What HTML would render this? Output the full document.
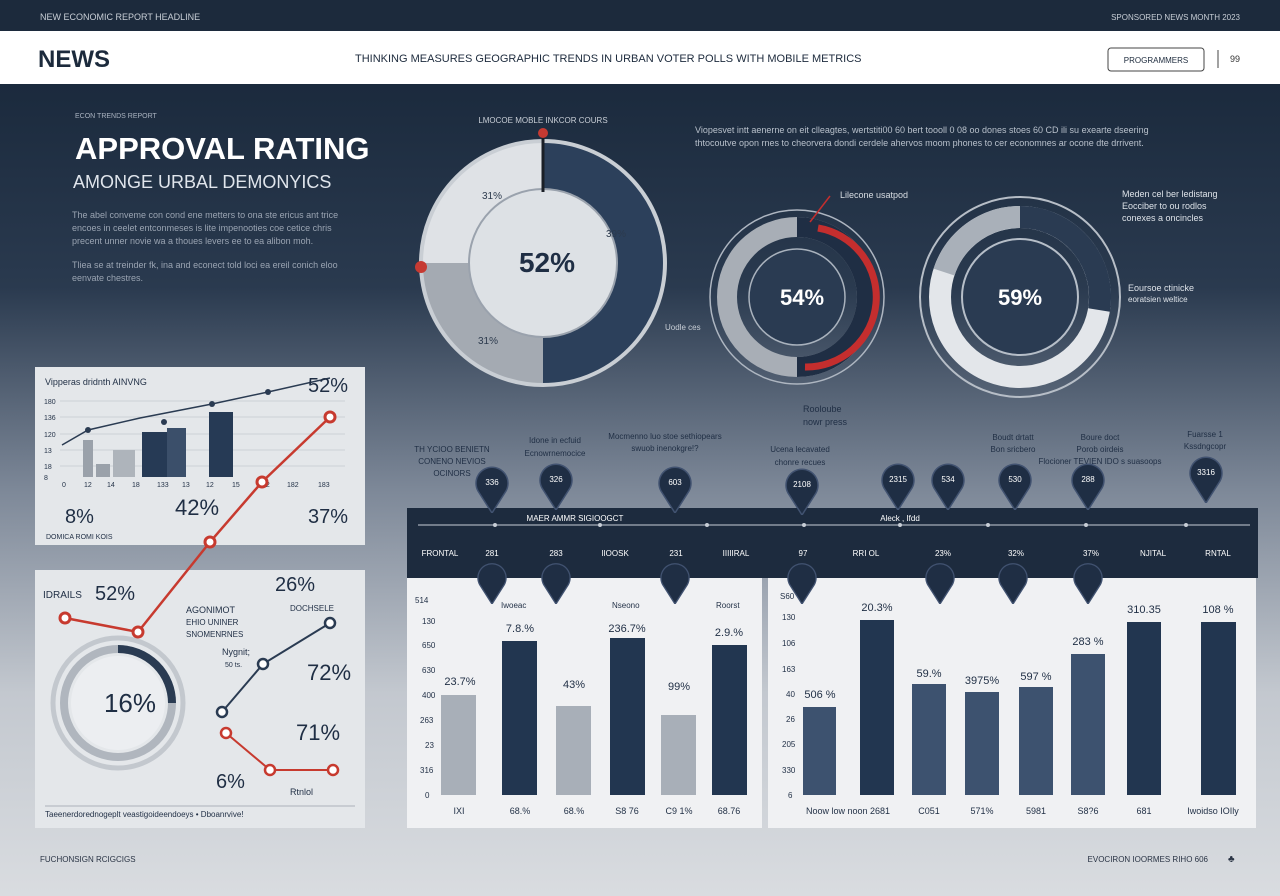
<!DOCTYPE html>
<html><head><meta charset="utf-8"><style>
html,body{margin:0;padding:0;width:1280px;height:896px;overflow:hidden;font-family:"Liberation Sans",sans-serif}
</style></head><body>
<svg width="1280" height="896" viewBox="0 0 1280 896" xmlns="http://www.w3.org/2000/svg" font-family="Liberation Sans, sans-serif">
<defs>
<linearGradient id="bg" x1="0" y1="0" x2="0" y2="1">
<stop offset="0" stop-color="#1b2a3d"/>
<stop offset="0.25" stop-color="#2a3a4f"/>
<stop offset="0.5" stop-color="#7d8898"/>
<stop offset="0.75" stop-color="#c3c8cf"/>
<stop offset="1" stop-color="#d9dce0"/>
</linearGradient>
<symbol id="pin" viewBox="0 0 36 50"><path d="M18 50 L4 28 A16 16 0 1 1 32 28 Z" fill="#1f2e44" stroke="#415270" stroke-width="1.5"/></symbol>
</defs>
<rect x="0" y="84" width="1280" height="812" fill="url(#bg)"/>
<rect x="0" y="0" width="1280" height="31" fill="#1c2a3c"/>
<text x="40" y="20" fill="#c8ced6" font-size="9">NEW ECONOMIC REPORT HEADLINE</text>
<text x="1240" y="20" fill="#c8ced6" font-size="8" text-anchor="end">SPONSORED NEWS MONTH 2023</text>
<rect x="0" y="31" width="1280" height="53" fill="#ffffff"/>
<text x="38" y="67" fill="#1c2a3c" font-size="24" font-weight="bold">NEWS</text>
<text x="355" y="62" fill="#1c2a3c" font-size="11">THINKING MEASURES GEOGRAPHIC TRENDS IN URBAN VOTER POLLS WITH MOBILE METRICS</text>
<rect x="1108" y="48" width="96" height="23" rx="3" fill="#fff" stroke="#444" stroke-width="1"/>
<text x="1156" y="63" fill="#1c2a3c" font-size="8" text-anchor="middle">PROGRAMMERS</text>
<line x1="1218" y1="50" x2="1218" y2="68" stroke="#444"/>
<text x="1230" y="62" fill="#333" font-size="9">99</text>

<text x="75" y="118" fill="#aab3c0" font-size="7">ECON TRENDS REPORT</text>
<text x="75" y="159" fill="#ffffff" font-size="31" font-weight="bold">APPROVAL RATING</text>
<text x="73" y="188" fill="#e0e5ec" font-size="18">AMONGE URBAL DEMONYICS</text>
<text x="72" y="218" fill="#9aa4b2" font-size="9">The abel conveme con cond ene metters to ona ste ericus ant trice</text>
<text x="72" y="231" fill="#9aa4b2" font-size="9">encoes in ceelet entconmeses is lite impenooties coe cetice chris</text>
<text x="72" y="244" fill="#9aa4b2" font-size="9">precent unner novie wa a thoues levers ee to ea alibon moh.</text>
<text x="72" y="268" fill="#9aa4b2" font-size="9">Tliea se at treinder fk, ina and econect told loci ea ereil conich eloo</text>
<text x="72" y="281" fill="#9aa4b2" font-size="9">eenvate chestres.</text>

<text x="543" y="123" fill="#c8ced6" font-size="8" text-anchor="middle">LMOCOE MOBLE INKCOR COURS</text>
<circle cx="543" cy="263" r="122" fill="#dfe2e6"/>
<path d="M543 141 A122 122 0 0 1 543 385 Z" fill="#2c405b"/>
<path d="M543 263 L543 385 A122 122 0 0 1 421 263 Z" fill="#a4aab2"/>
<circle cx="543" cy="263" r="122" fill="none" stroke="#c9ced4" stroke-width="4"/>
<circle cx="543" cy="263" r="74" fill="#dde1e5" stroke="#9aa2ad" stroke-width="2"/>
<line x1="543" y1="135" x2="543" y2="192" stroke="#1a1f27" stroke-width="3"/>
<circle cx="543" cy="133" r="5" fill="#c63a32"/>
<circle cx="421" cy="267" r="6" fill="#c63a32"/>
<text x="547" y="272" fill="#1f2e44" font-size="28" font-weight="bold" text-anchor="middle">52%</text>
<text x="482" y="199" fill="#2c3a4d" font-size="10">31%</text>
<text x="606" y="237" fill="#2c3a4d" font-size="10">39%</text>
<text x="478" y="344" fill="#2c3a4d" font-size="10">31%</text>

<text x="695" y="133" fill="#b8c0cb" font-size="9">Viopesvet intt aenerne on eit clleagtes, wertstiti00 60 bert toooll 0 08 oo dones stoes 60 CD ili su exearte dseering</text>
<text x="695" y="146" fill="#b8c0cb" font-size="9">thtocoutve opon rnes to cheorvera dondi cerdele ahervos moom phones to cer economnes ar ocone dte drrivent.</text>

<circle cx="797" cy="297" r="87" fill="none" stroke="#aeb6c1" stroke-width="1.5"/>
<circle cx="797" cy="297" r="70" fill="none" stroke="#a8aeb6" stroke-width="20"/>
<path d="M797 227 A70 70 0 0 1 797 367" fill="none" stroke="#1f2e44" stroke-width="20"/>
<path d="M810 228 A70 70 0 0 1 797 367" fill="none" stroke="#c42e2e" stroke-width="7" transform="translate(8,0)"/>
<circle cx="797" cy="297" r="48" fill="#2a3b52" stroke="#a9b2bd" stroke-width="1.5"/>
<text x="802" y="305" fill="#fff" font-size="22" font-weight="bold" text-anchor="middle">54%</text>
<text x="840" y="198" fill="#d8dde3" font-size="9">Lilecone usatpod</text>
<line x1="830" y1="196" x2="810" y2="222" stroke="#c42e2e" stroke-width="1.5"/>
<text x="665" y="330" fill="#c8ced6" font-size="8">Uodle ces</text>
<text x="803" y="412" fill="#1f2e44" font-size="9">Rooloube</text>
<text x="803" y="425" fill="#1f2e44" font-size="9">nowr press</text>

<circle cx="1020" cy="297" r="100" fill="none" stroke="#b7bec7" stroke-width="2"/>
<circle cx="1020" cy="297" r="80" fill="none" stroke="#e3e6ea" stroke-width="22"/>
<path d="M1020 217 A80 80 0 0 1 1099 310" fill="none" stroke="#2a3b52" stroke-width="22"/>
<path d="M1020 217 A80 80 0 0 0 944 272" fill="none" stroke="#a9b0b9" stroke-width="22"/>
<circle cx="1020" cy="297" r="58" fill="#2a3b52" stroke="#b6bec8" stroke-width="2"/>
<text x="1020" y="305" fill="#fff" font-size="22" font-weight="bold" text-anchor="middle">59%</text>
<text x="1122" y="197" fill="#dde2e8" font-size="9">Meden cel ber ledistang</text>
<text x="1122" y="209" fill="#dde2e8" font-size="9">Eocciber to ou rodlos</text>
<text x="1122" y="221" fill="#dde2e8" font-size="9">conexes a oncincles</text>
<text x="1128" y="291" fill="#dde2e8" font-size="9">Eoursoe ctinicke</text>
<text x="1128" y="302" fill="#dde2e8" font-size="8">eoratsien weltice</text>

<rect x="35" y="367" width="330" height="178" fill="#e4e7ea"/>
<text x="45" y="385" fill="#1f2e44" font-size="9">Vipperas dridnth AINVNG</text>
<g fill="#1f2e44" font-size="7">
<text x="44" y="404">180</text><text x="44" y="420">136</text><text x="44" y="437">120</text><text x="44" y="453">13</text><text x="44" y="469">18</text><text x="44" y="480">8</text>
<text x="62" y="487">0</text><text x="84" y="487">12</text><text x="107" y="487">14</text><text x="132" y="487">18</text><text x="157" y="487">133</text><text x="182" y="487">13</text><text x="206" y="487">12</text><text x="232" y="487">15</text><text x="262" y="487">22</text><text x="287" y="487">182</text><text x="318" y="487">183</text>
</g>
<g stroke="#b4bac2" stroke-width="0.6"><line x1="60" y1="401" x2="345" y2="401"/><line x1="60" y1="417" x2="345" y2="417"/><line x1="60" y1="434" x2="345" y2="434"/><line x1="60" y1="450" x2="345" y2="450"/><line x1="60" y1="466" x2="345" y2="466"/></g>
<rect x="83" y="440" width="10" height="37" fill="#9aa1aa"/>
<rect x="96" y="464" width="14" height="13" fill="#9aa1aa"/>
<rect x="113" y="450" width="22" height="27" fill="#aeb4bb"/>
<rect x="142" y="432" width="28" height="45" fill="#263a55"/>
<rect x="167" y="428" width="19" height="49" fill="#3b4f6a"/>
<rect x="209" y="412" width="24" height="65" fill="#263a55"/>
<polyline points="62,445 88,430 140,418 212,404 268,392 330,378" fill="none" stroke="#2a3b52" stroke-width="1.5"/>
<g fill="#2a3b52"><circle cx="88" cy="430" r="3"/><circle cx="164" cy="422" r="3"/><circle cx="212" cy="404" r="3"/><circle cx="268" cy="392" r="3"/></g>
<text x="308" y="392" fill="#1f2e44" font-size="20">52%</text>
<text x="65" y="523" fill="#1f2e44" font-size="20">8%</text>
<text x="175" y="515" fill="#1f2e44" font-size="22">42%</text>
<text x="308" y="523" fill="#1f2e44" font-size="20">37%</text>
<text x="46" y="539" fill="#1f2e44" font-size="7">DOMICA ROMI KOIS</text>

<rect x="35" y="570" width="330" height="258" fill="#e4e7ea"/>
<text x="43" y="598" fill="#1f2e44" font-size="10">IDRAILS</text>
<text x="95" y="600" fill="#1f2e44" font-size="20">52%</text>
<text x="275" y="591" fill="#1f2e44" font-size="20">26%</text>
<text x="290" y="611" fill="#1f2e44" font-size="8">DOCHSELE</text>
<text x="186" y="613" fill="#1f2e44" font-size="9">AGONIMOT</text>
<text x="186" y="625" fill="#1f2e44" font-size="8">EHIO UNINER</text>
<text x="186" y="637" fill="#1f2e44" font-size="8">SNOMENRNES</text>
<text x="222" y="655" fill="#1f2e44" font-size="9">Nygnit;</text>
<text x="225" y="667" fill="#1f2e44" font-size="7">50 ts.</text>
<circle cx="118" cy="703" r="65" fill="none" stroke="#c3c8ce" stroke-width="5"/>
<circle cx="118" cy="703" r="54" fill="none" stroke="#b0b6be" stroke-width="8"/>
<path d="M118 649 A54 54 0 0 1 172 703" fill="none" stroke="#2a3b52" stroke-width="8"/>
<circle cx="118" cy="703" r="47" fill="#eceef1"/>
<text x="130" y="712" fill="#1f2e44" font-size="26" text-anchor="middle">16%</text>
<text x="307" y="680" fill="#1f2e44" font-size="22">72%</text>
<text x="296" y="740" fill="#1f2e44" font-size="22">71%</text>
<text x="216" y="788" fill="#1f2e44" font-size="20">6%</text>
<text x="290" y="795" fill="#1f2e44" font-size="9">Rtnlol</text>
<line x1="45" y1="806" x2="355" y2="806" stroke="#9aa0a8" stroke-width="0.8"/>
<text x="45" y="817" fill="#1f2e44" font-size="8">Taeenerdorednogeplt veastigoideendoeys • Dboanrvive!</text>
<polyline points="222,712 263,664 330,623" fill="none" stroke="#2a3b52" stroke-width="2"/>
<g fill="#fff" stroke="#2a3b52" stroke-width="2.5"><circle cx="222" cy="712" r="5"/><circle cx="263" cy="664" r="5"/><circle cx="330" cy="623" r="5"/></g>
<polyline points="226,733 270,770 333,770" fill="none" stroke="#c73a2f" stroke-width="2"/>
<g fill="#fff" stroke="#c73a2f" stroke-width="2.5"><circle cx="226" cy="733" r="5"/><circle cx="270" cy="770" r="5"/><circle cx="333" cy="770" r="5"/></g>
<polyline points="65,618 138,632 210,542 262,482 330,417" fill="none" stroke="#c73a2f" stroke-width="2.5"/>
<g fill="#fff" stroke="#c73a2f" stroke-width="3"><circle cx="65" cy="618" r="5"/><circle cx="138" cy="632" r="5"/><circle cx="210" cy="542" r="5"/><circle cx="262" cy="482" r="5"/><circle cx="330" cy="417" r="5"/></g>

<g fill="#1f2e44" font-size="8" text-anchor="middle">
<text x="452" y="452">TH YCIOO BENIETN</text><text x="452" y="464">CONENO NEVIOS</text><text x="452" y="476">OCINORS</text>
<text x="555" y="443">Idone in ecfuid</text><text x="555" y="456">Ecnowrnemocice</text>
<text x="665" y="439">Mocmenno luo stoe sethiopears</text><text x="665" y="451">swuob inenokgre!?</text>
<text x="800" y="452">Ucena lecavated</text><text x="800" y="465">chonre recues</text>
<text x="1013" y="440">Boudt drtatt</text><text x="1013" y="452">Bon sricbero</text>
<text x="1100" y="440">Boure doct</text><text x="1100" y="452">Porob oirdeis</text><text x="1100" y="464">Flocioner TEVIEN IDO s suasoops</text>
<text x="1205" y="437">Fuarsse 1</text><text x="1205" y="449">Kssdngcopr</text>
</g>
<rect x="407" y="508" width="851" height="70" fill="#1d2b3e"/>
<line x1="418" y1="525" x2="1250" y2="525" stroke="#c8ced6" stroke-width="1"/>
<g fill="#c8ced6"><circle cx="495" cy="525" r="2"/><circle cx="600" cy="525" r="2"/><circle cx="707" cy="525" r="2"/><circle cx="804" cy="525" r="2"/><circle cx="900" cy="525" r="2"/><circle cx="988" cy="525" r="2"/><circle cx="1086" cy="525" r="2"/><circle cx="1186" cy="525" r="2"/></g>
<text x="575" y="521" fill="#fff" font-size="8" text-anchor="middle">MAER AMMR SIGIOOGCT</text>
<text x="900" y="521" fill="#fff" font-size="8" text-anchor="middle">Aleck , Ifdd</text>
<g fill="#fff" font-size="8" text-anchor="middle">
<text x="440" y="556">FRONTAL</text><text x="492" y="556">281</text><text x="556" y="556">283</text><text x="615" y="556">IIOOSK</text><text x="676" y="556">231</text><text x="736" y="556">IIIIIRAL</text><text x="803" y="556">97</text><text x="866" y="556">RRI OL</text><text x="943" y="556">23%</text><text x="1016" y="556">32%</text><text x="1091" y="556">37%</text><text x="1153" y="556">NJITAL</text><text x="1218" y="556">RNTAL</text>
</g>
<g>
<use href="#pin" x="474" y="463" width="36" height="50"/><use href="#pin" x="538" y="460" width="36" height="50"/><use href="#pin" x="657" y="463" width="36" height="50"/><use href="#pin" x="784" y="465" width="36" height="50"/><use href="#pin" x="880" y="460" width="36" height="50"/><use href="#pin" x="930" y="460" width="36" height="50"/><use href="#pin" x="997" y="460" width="36" height="50"/><use href="#pin" x="1070" y="460" width="36" height="50"/><use href="#pin" x="1188" y="453" width="36" height="50"/>
</g>
<g fill="#fff" font-size="8" text-anchor="middle">
<text x="492" y="485">336</text><text x="556" y="482">326</text><text x="675" y="485">603</text><text x="802" y="487">2108</text><text x="898" y="482">2315</text><text x="948" y="482">534</text><text x="1015" y="482">530</text><text x="1088" y="482">288</text><text x="1206" y="475">3316</text>
</g>

<rect x="407" y="578" width="355" height="250" fill="#f0f1f3"/>
<rect x="768" y="578" width="488" height="250" fill="#f0f1f3"/>
<g>
<use href="#pin" x="474" y="560" width="36" height="44"/><use href="#pin" x="538" y="560" width="36" height="44"/><use href="#pin" x="657" y="560" width="36" height="44"/><use href="#pin" x="784" y="560" width="36" height="44"/><use href="#pin" x="922" y="560" width="36" height="44"/><use href="#pin" x="995" y="560" width="36" height="44"/><use href="#pin" x="1070" y="560" width="36" height="44"/>
</g>
<g fill="#1f2e44" font-size="8">
<text x="415" y="603">514</text><text x="422" y="624">130</text><text x="422" y="648">650</text><text x="422" y="673">630</text><text x="422" y="698">400</text><text x="420" y="723">263</text><text x="425" y="748">23</text><text x="420" y="773">316</text><text x="425" y="798">0</text>
<text x="501" y="608">Iwoeac</text><text x="612" y="608">Nseono</text><text x="716" y="608">Roorst</text>
<text x="780" y="599">S60</text><text x="782" y="620">130</text><text x="782" y="646">106</text><text x="782" y="672">163</text><text x="786" y="697">40</text><text x="786" y="722">26</text><text x="782" y="747">205</text><text x="782" y="773">330</text><text x="788" y="798">6</text>
</g>
<rect x="441" y="695" width="35" height="100" fill="#a8afb8"/>
<rect x="502" y="641" width="35" height="154" fill="#223650"/>
<rect x="556" y="706" width="35" height="89" fill="#a8afb8"/>
<rect x="610" y="638" width="35" height="157" fill="#223650"/>
<rect x="661" y="715" width="35" height="80" fill="#a8afb8"/>
<rect x="712" y="645" width="35" height="150" fill="#223650"/>
<g fill="#1f2e44" font-size="11" text-anchor="middle">
<text x="460" y="685">23.7%</text><text x="520" y="632">7.8.%</text><text x="574" y="688">43%</text><text x="627" y="632">236.7%</text><text x="679" y="690">99%</text><text x="729" y="636">2.9.%</text>
</g>
<rect x="803" y="707" width="33" height="88" fill="#3d526f"/>
<rect x="860" y="620" width="34" height="175" fill="#223650"/>
<rect x="912" y="684" width="34" height="111" fill="#3d526f"/>
<rect x="965" y="692" width="34" height="103" fill="#3d526f"/>
<rect x="1019" y="687" width="34" height="108" fill="#3d526f"/>
<rect x="1071" y="654" width="34" height="141" fill="#3d526f"/>
<rect x="1127" y="622" width="34" height="173" fill="#223650"/>
<rect x="1201" y="622" width="35" height="173" fill="#223650"/>
<g fill="#1f2e44" font-size="11" text-anchor="middle">
<text x="820" y="698">506 %</text><text x="877" y="611">20.3%</text><text x="929" y="677">59.%</text><text x="982" y="684">3975%</text><text x="1036" y="680">597 %</text><text x="1088" y="645">283 %</text><text x="1144" y="613">310.35</text><text x="1218" y="613">108 %</text>
</g>
<g fill="#1f2e44" font-size="9" text-anchor="middle">
<text x="459" y="814">IXI</text><text x="520" y="814">68.%</text><text x="574" y="814">68.%</text><text x="627" y="814">S8 76</text><text x="679" y="814">C9 1%</text><text x="729" y="814">68.76</text>
<text x="848" y="814">Noow low noon 2681</text><text x="929" y="814">C051</text><text x="982" y="814">571%</text><text x="1036" y="814">5981</text><text x="1088" y="814">S8?6</text><text x="1144" y="814">681</text><text x="1213" y="814">Iwoidso IOIly</text>
</g>
<text x="40" y="862" fill="#2a3445" font-size="8">FUCHONSIGN RCIGCIGS</text>
<text x="1208" y="862" fill="#2a3445" font-size="8" text-anchor="end">EVOCIRON IOORMES RIHO 606</text>
<text x="1228" y="862" fill="#2a3445" font-size="10">♣</text>
</svg>
</body></html>
